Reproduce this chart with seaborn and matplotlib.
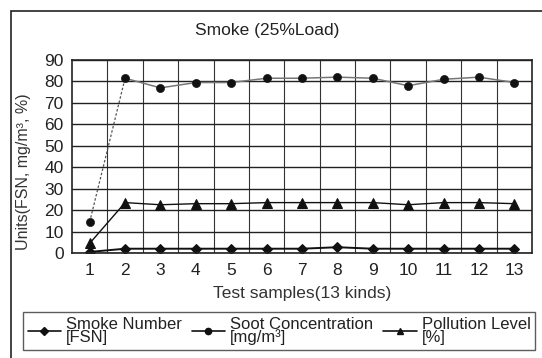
import matplotlib
matplotlib.use("Agg")
import matplotlib.pyplot as plt
import seaborn as sns
import numpy as np
import pandas as pd
from matplotlib.lines import Line2D
from matplotlib.patches import Rectangle

samples = list(range(1, 14))
smoke_number = [0.5, 2.0, 2.0, 2.0, 2.0, 2.0, 2.0, 2.7, 2.0, 2.0, 2.0, 2.0, 2.0]
soot_conc = [14.5, 81.5, 77.0, 79.5, 79.5, 81.5, 81.5, 82.0, 81.5, 78.0, 81.0, 82.0, 79.5]
pollution = [4.5, 23.5, 22.5, 23.0, 23.0, 23.5, 23.5, 23.5, 23.5, 22.5, 23.5, 23.5, 23.0]
legend_labels = ["Smoke Number\n[FSN]", "Soot Concentration\n[mg/m³]", "Pollution Level\n[%]"]

sns.set_style("white")
plt.rcParams["font.family"] = ["Liberation Sans", "DejaVu Sans"]

df = pd.DataFrame({"x": samples, "fsn": smoke_number, "soot": soot_conc, "pol": pollution})

fig = plt.figure(figsize=(5.42, 3.58), dpi=100)
ax = fig.add_axes([72 / 542, 1 - 253 / 358, 460 / 542, 193 / 358])

# outer frame around the whole figure
fig.patches.append(Rectangle((11 / 542, -0.05), 1.2, 1 - 11 / 358 + 0.05,
                             transform=fig.transFigure, fill=False,
                             edgecolor="#222222", lw=1.2))

# soot concentration: dotted rise from sample 1, solid afterwards
sns.lineplot(data=df.iloc[0:2], x="x", y="soot", ax=ax, color="#555555",
             lw=0.9, linestyle=(0, (2, 1.5)))
sns.lineplot(data=df.iloc[1:], x="x", y="soot", ax=ax, color="#777777", lw=1.1)
sns.scatterplot(data=df, x="x", y="soot", ax=ax, color="#111111", marker="o",
                s=34, edgecolor="#111111", zorder=5)
# pollution level
sns.lineplot(data=df, x="x", y="pol", ax=ax, color="#111111", lw=1.0,
             marker="^", markersize=7, markeredgecolor="#111111")
# smoke number
sns.lineplot(data=df, x="x", y="fsn", ax=ax, color="#111111", lw=1.4,
             marker="D", markersize=5, markeredgecolor="#111111")

ax.set_xlim(0.5, 13.5)
ax.set_ylim(0, 90)
ax.set_xticks(samples)
ax.set_xticks(np.arange(1.5, 13.5, 1.0), minor=True)
ax.set_yticks(np.arange(0, 91, 10))
ax.grid(True, which="major", axis="y", color="#222222", lw=1.0)
ax.grid(True, which="minor", axis="x", color="#333333", lw=0.8)
ax.set_axisbelow(True)
ax.tick_params(axis="both", which="both", length=0, labelsize=12.5, colors="#222222")
ax.tick_params(axis="x", pad=7)
ax.tick_params(axis="y", pad=6)
for sp in ax.spines.values():
    sp.set_color("#222222")
    sp.set_linewidth(1.2)

ax.set_xlabel("Test samples(13 kinds)", fontsize=12.5, color="#333333", labelpad=6)
ax.set_ylabel("Units(FSN, mg/m³, %)", fontsize=11.5, color="#333333")
ax.yaxis.set_label_coords(-0.09, 0.42)
fig.text(267 / 542, 1 - 31 / 358, "Smoke (25%Load)",
         ha="center", va="center", fontsize=12.5, color="#222222")

handles = [
    Line2D([], [], color="#111111", lw=1.2, marker="D", markersize=4),
    Line2D([], [], color="#111111", lw=1.2, marker="o", markersize=4.5),
    Line2D([], [], color="#111111", lw=1.2, marker="^", markersize=5),
]
leg = fig.legend(handles, legend_labels, ncol=3, loc="center",
                 bbox_to_anchor=(279 / 542, 1 - 331 / 358), frameon=True,
                 fontsize=12, handlelength=2.0, handletextpad=0.3,
                 columnspacing=0.6, borderpad=0.25, fancybox=False,
                 labelspacing=0.1)
leg.get_frame().set_edgecolor("#333333")
leg.get_frame().set_linewidth(1.0)
for t in leg.get_texts():
    t.set_linespacing(0.85)
    t.set_color("#222222")

fig.savefig("out.png", dpi=100)
